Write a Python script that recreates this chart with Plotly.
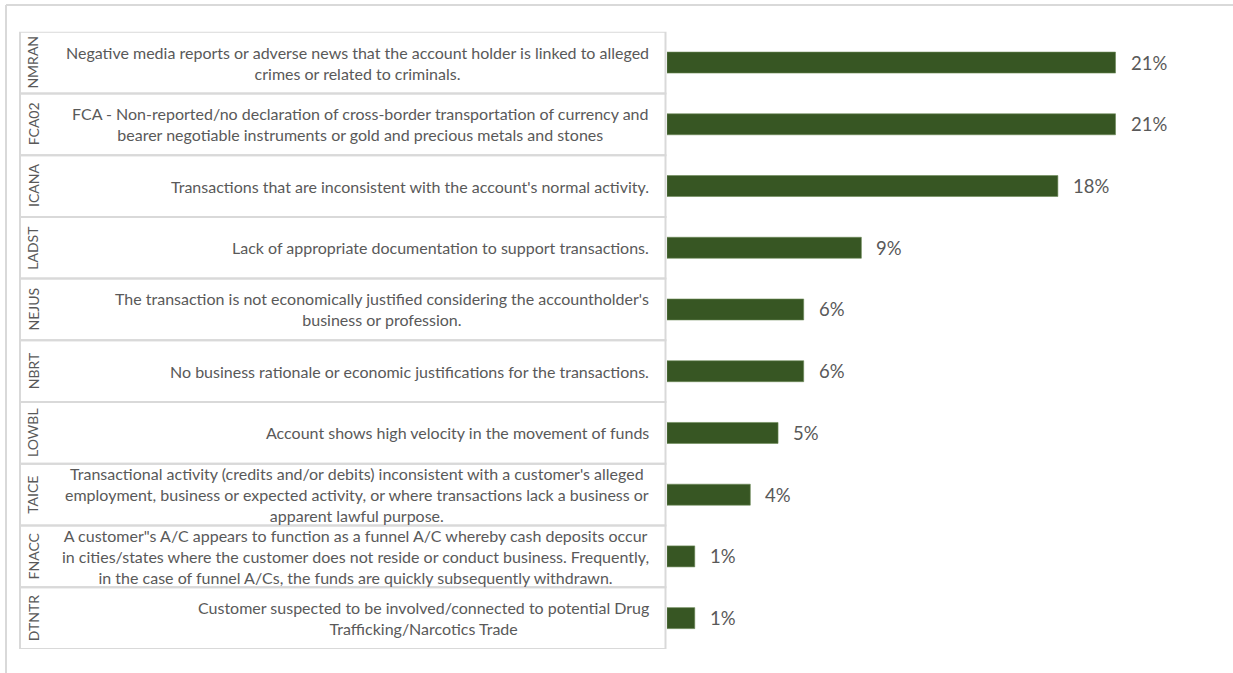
import plotly.graph_objects as go

# Indicator codes, their descriptions and share of reports
codes = ["NMRAN", "FCA02", "ICANA", "LADST", "NEJUS", "NBRT", "LOWBL", "TAICE", "FNACC", "DTNTR"]
descriptions = [
    "Negative media reports or adverse news that the account holder is linked to alleged<br>crimes or related to criminals.",
    "FCA - Non-reported/no declaration of cross-border transportation of currency and<br>bearer negotiable instruments or gold and precious metals and stones",
    "Transactions that are inconsistent with the account's normal activity.",
    "Lack of appropriate documentation to support transactions.",
    "The transaction is not economically justified considering the accountholder's<br>business or profession.",
    "No business rationale or economic justifications for the transactions.",
    "Account shows high velocity in the movement of funds",
    "Transactional activity (credits and/or debits) inconsistent with a customer's alleged<br>employment, business or expected activity, or where transactions lack a business or<br>apparent lawful purpose.",
    "A customer\"s A/C appears to function as a funnel A/C whereby cash deposits occur<br>in cities/states where the customer does not reside or conduct business. Frequently,<br>in the case of funnel A/Cs, the funds are quickly subsequently withdrawn.",
    "Customer suspected to be involved/connected to potential Drug<br>Trafficking/Narcotics Trade",
]
shares = [0.210, 0.210, 0.183, 0.091, 0.064, 0.064, 0.052, 0.039, 0.013, 0.013]

W, H = 1233, 673
BAR_COLOR = "#375623"
TEXT_COLOR = "#595959"
GRID_COLOR = "#d9d9d9"
FONT = "Lato"

fig = go.Figure(
    go.Bar(
        x=shares,
        y=codes,
        orientation="h",
        marker=dict(color=BAR_COLOR, line=dict(color="#6b8a57", width=0.6)),
        width=0.34,
        hoverinfo="skip",
    )
)

# table geometry (paper fractions)
tbl_left = 20 / W
tbl_right = 665.5 / W
code_x = 33 / W
desc_x = 651 / W

shapes = []
annotations = []
for i, (c, d, v) in enumerate(zip(codes, descriptions, shares)):
    shapes.append(dict(
        type="rect", xref="paper", yref="y",
        x0=tbl_left, x1=tbl_right, y0=i - 0.5, y1=i + 0.5,
        line=dict(color=GRID_COLOR, width=2), fillcolor="rgba(0,0,0,0)", layer="below",
    ))
    annotations.append(dict(
        xref="paper", yref="y", x=code_x, y=c, text=c, textangle=-90,
        showarrow=False, xanchor="center", yanchor="middle",
        font=dict(family=FONT, size=14, color=TEXT_COLOR),
    ))
    annotations.append(dict(
        xref="paper", yref="y", x=desc_x, y=c, text=d, align="center",
        showarrow=False, xanchor="right", yanchor="middle",
        font=dict(family=FONT, size=16, color=TEXT_COLOR),
    ))
    annotations.append(dict(
        xref="x", yref="y", x=v, y=c, text=f"{v:.0%}", xshift=13,
        showarrow=False, xanchor="left", yanchor="middle",
        font=dict(family=FONT, size=18.5, color=TEXT_COLOR),
    ))

# outer frame lines (top and left)
shapes.append(dict(type="line", xref="paper", yref="paper",
                   x0=6 / W, x1=1.01, y0=1 - 5 / H, y1=1 - 5 / H,
                   line=dict(color=GRID_COLOR, width=2)))
shapes.append(dict(type="line", xref="paper", yref="paper",
                   x0=6 / W, x1=6 / W, y0=-0.01, y1=1 - 5 / H,
                   line=dict(color=GRID_COLOR, width=2)))

fig.update_layout(
    width=W, height=H,
    margin=dict(l=0, r=0, t=0, b=0),
    paper_bgcolor="white", plot_bgcolor="white",
    showlegend=False,
    shapes=shapes,
    annotations=annotations,
    xaxis=dict(domain=[667 / W, 1], range=[0, 0.265], visible=False, fixedrange=True),
    yaxis=dict(domain=[1 - 649 / H, 1 - 31.7 / H], range=[9.5, -0.5],
               showticklabels=False, showgrid=False, zeroline=False, fixedrange=True),
)

fig.write_html("out.html", config={"displayModeBar": False})
